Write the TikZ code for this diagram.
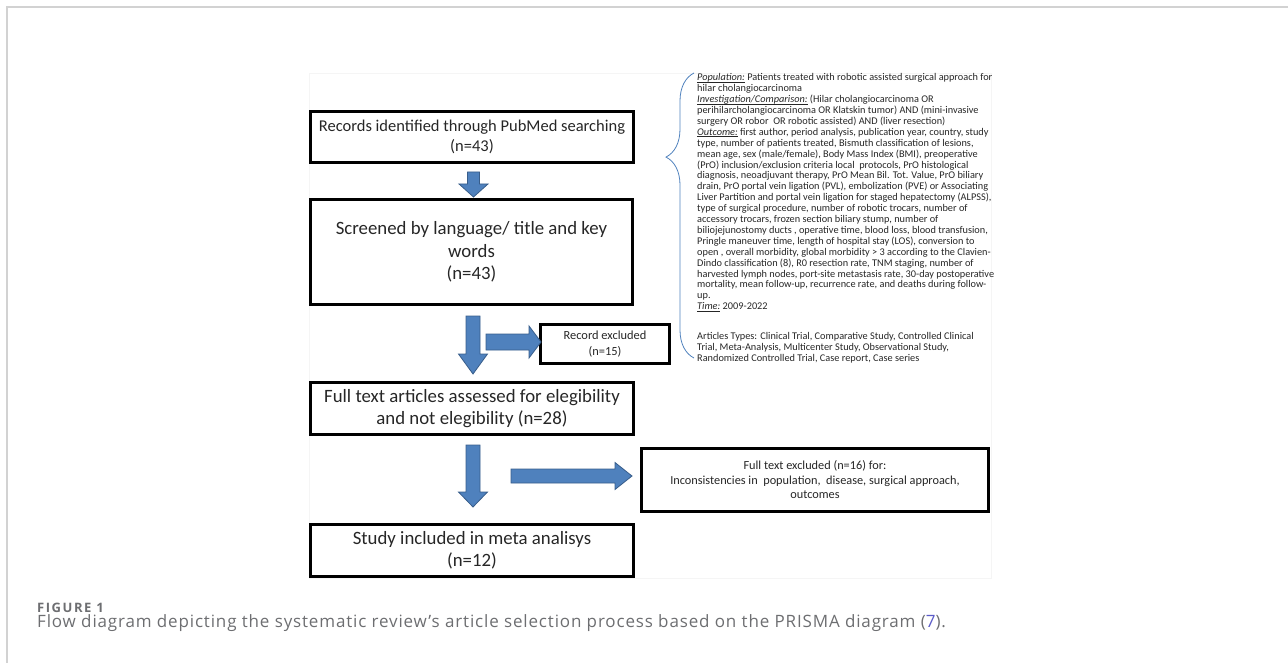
\documentclass[tikz,border=0pt]{standalone}
\usepackage{fontspec}
\setmainfont{Carlito}
\newfontfamily\captionfont[LetterSpace=5]{Open Sans}
\newfontfamily\figlabelfont[LetterSpace=12]{Open Sans}
\usepackage{xcolor}
\usetikzlibrary{decorations.pathreplacing}

\definecolor{arrowblue}{HTML}{4F81BD}
\definecolor{arrowedge}{HTML}{385D8A}
\definecolor{capgray}{HTML}{6D6E71}
\definecolor{linkblue}{HTML}{5B5BC8}

% italic underlined label in the search strategy
\newsavebox{\labelbox}
\newcommand{\picolabel}[1]{\sbox{\labelbox}{\textit{#1}}\rlap{\rule[-1.4pt]{\wd\labelbox}{0.45pt}}\usebox{\labelbox}}

% block arrow: #1 tail, #2 angle, #3 length, #4 shaft half, #5 head half, #6 head length
\newcommand{\bluearrow}[6]{%
  \draw[blockarrow, shift={#1}, rotate=#2]
    (0,-#4) -- (#3-#6,-#4) -- (#3-#6,-#5) -- (#3,0) -- (#3-#6,#5) -- (#3-#6,#4) -- (0,#4) -- cycle;}

\begin{document}
\begin{tikzpicture}[x=1pt, y=-1pt,
        prismabox/.style={
            draw,
            line width=3pt,
            align=center,
            text=black!85,
            inner sep=2pt
        },
        bigtext/.style={font=\fontsize{18.8}{22.5}\selectfont},
        midtext/.style={font=\fontsize{16.5}{20}\selectfont},
        smalltext/.style={font=\fontsize{12.4}{16}\selectfont},
        tinytext/.style={font=\fontsize{12.3}{14.5}\selectfont},
        blockarrow/.style={fill=arrowblue, draw=arrowedge, line width=0.8pt, line join=miter},
        framebox/.style={draw=gray!35, line width=1.2pt}
    ]
        \useasboundingbox (0,0) rectangle (1288,663);

        % page frame and image frame
        \draw[framebox] (1288,7) -- (7,7) -- (7,663);
        \draw[gray!8, line width=0.6pt] (309,73) rectangle (991,578);

        % main column
        \node[prismabox, midtext, minimum width=323pt, minimum height=51pt] (records) at (472,137)
            {Records identified through PubMed searching\\(n=43)};
        \node[prismabox, bigtext, minimum width=322pt, minimum height=105pt] (screened) at (471.5,252)
            {Screened by language/ title and key\\words\\(n=43)};
        \node[prismabox, bigtext, minimum width=323pt, minimum height=52pt] (fulltext) at (472,408.5)
            {Full text articles assessed for elegibility\\and not elegibility (n=28)};
        \node[prismabox, bigtext, minimum width=323pt, minimum height=52pt] (included) at (472,550.5)
            {Study included in meta analisys\\(n=12)};

        % exclusions
        \node[prismabox, smalltext, minimum width=129pt, minimum height=39pt] (recexcl) at (605,344)
            {Record excluded\\(n=15)};
        \node[prismabox, tinytext, minimum width=347pt, minimum height=63pt] (fullexcl) at (815,480)
            {Full text excluded (n=16) for:\\Inconsistencies in\ \ population,\ \ disease, surgical approach,\\outcomes};

        % block arrows
        \bluearrow{(473.5,172)}{-90}{25}{6}{14.5}{13}
        \bluearrow{(473,316)}{-90}{58}{7}{14.5}{20}
        \bluearrow{(486,342)}{0}{55}{8}{16}{12}
        \bluearrow{(473,445)}{-90}{62}{7}{14.5}{15}
        \bluearrow{(511,476)}{0}{121}{7}{13.5}{17}

        % search strategy
        \draw[arrowblue, line width=0.8pt, decorate,
              decoration={brace, amplitude=28pt, aspect=0.705}]
            (694,358) -- (694,73);
        \node[anchor=north west, align=left, inner sep=0pt, text=black!85,
              font=\fontsize{10.3}{10.9}\selectfont] (pico) at (697,73.5)
            {\picolabel{Population:} Patients treated with robotic assisted surgical approach for\\
             hilar cholangiocarcinoma\\
             \picolabel{Investigation/Comparison:} (Hilar cholangiocarcinoma OR\\
             perihilarcholangiocarcinoma OR Klatskin tumor) AND (mini-invasive\\
             surgery OR robor\ \ OR robotic assisted) AND (liver resection)\\
             \picolabel{Outcome:} first author, period analysis, publication year, country, study\\
             type, number of patients treated, Bismuth classification of lesions,\\
             mean age, sex (male/female), Body Mass Index (BMI), preoperative\\
             (PrO) inclusion/exclusion criteria local\ \ protocols, PrO histological\\
             diagnosis, neoadjuvant therapy, PrO Mean Bil. Tot. Value, PrO biliary\\
             drain, PrO portal vein ligation (PVL), embolization (PVE) or Associating\\
             Liver Partition and portal vein ligation for staged hepatectomy (ALPSS),\\
             type of surgical procedure, number of robotic trocars, number of\\
             accessory trocars, frozen section biliary stump, number of\\
             biliojejunostomy ducts , operative time, blood loss, blood transfusion,\\
             Pringle maneuver time, length of hospital stay (LOS), conversion to\\
             open , overall morbidity, global morbidity > 3 according to the Clavien-\\
             Dindo classification (8), R0 resection rate, TNM staging, number of\\
             harvested lymph nodes, port-site metastasis rate, 30-day postoperative\\
             mortality, mean follow-up, recurrence rate, and deaths during follow-\\
             up.\\
             \picolabel{Time:} 2009-2022\\[19pt]
             Articles Types: Clinical Trial, Comparative Study, Controlled Clinical\\
             Trial, Meta-Analysis, Multicenter Study, Observational Study,\\
             Randomized Controlled Trial, Case report, Case series};

        % caption
        \node[anchor=west, inner sep=0pt, text=capgray, font=\figlabelfont\bfseries\fontsize{13}{15}\selectfont]
            (figlabel) at (37,607.5) {FIGURE 1};
        \node[anchor=west, inner sep=0pt, text=capgray, font=\captionfont\fontsize{17}{20}\selectfont]
            (figcaption) at (37,623) {Flow diagram depicting the systematic review’s article selection process based on the PRISMA diagram (\textcolor{linkblue}{7}).};
    \end{tikzpicture}
\end{document}
